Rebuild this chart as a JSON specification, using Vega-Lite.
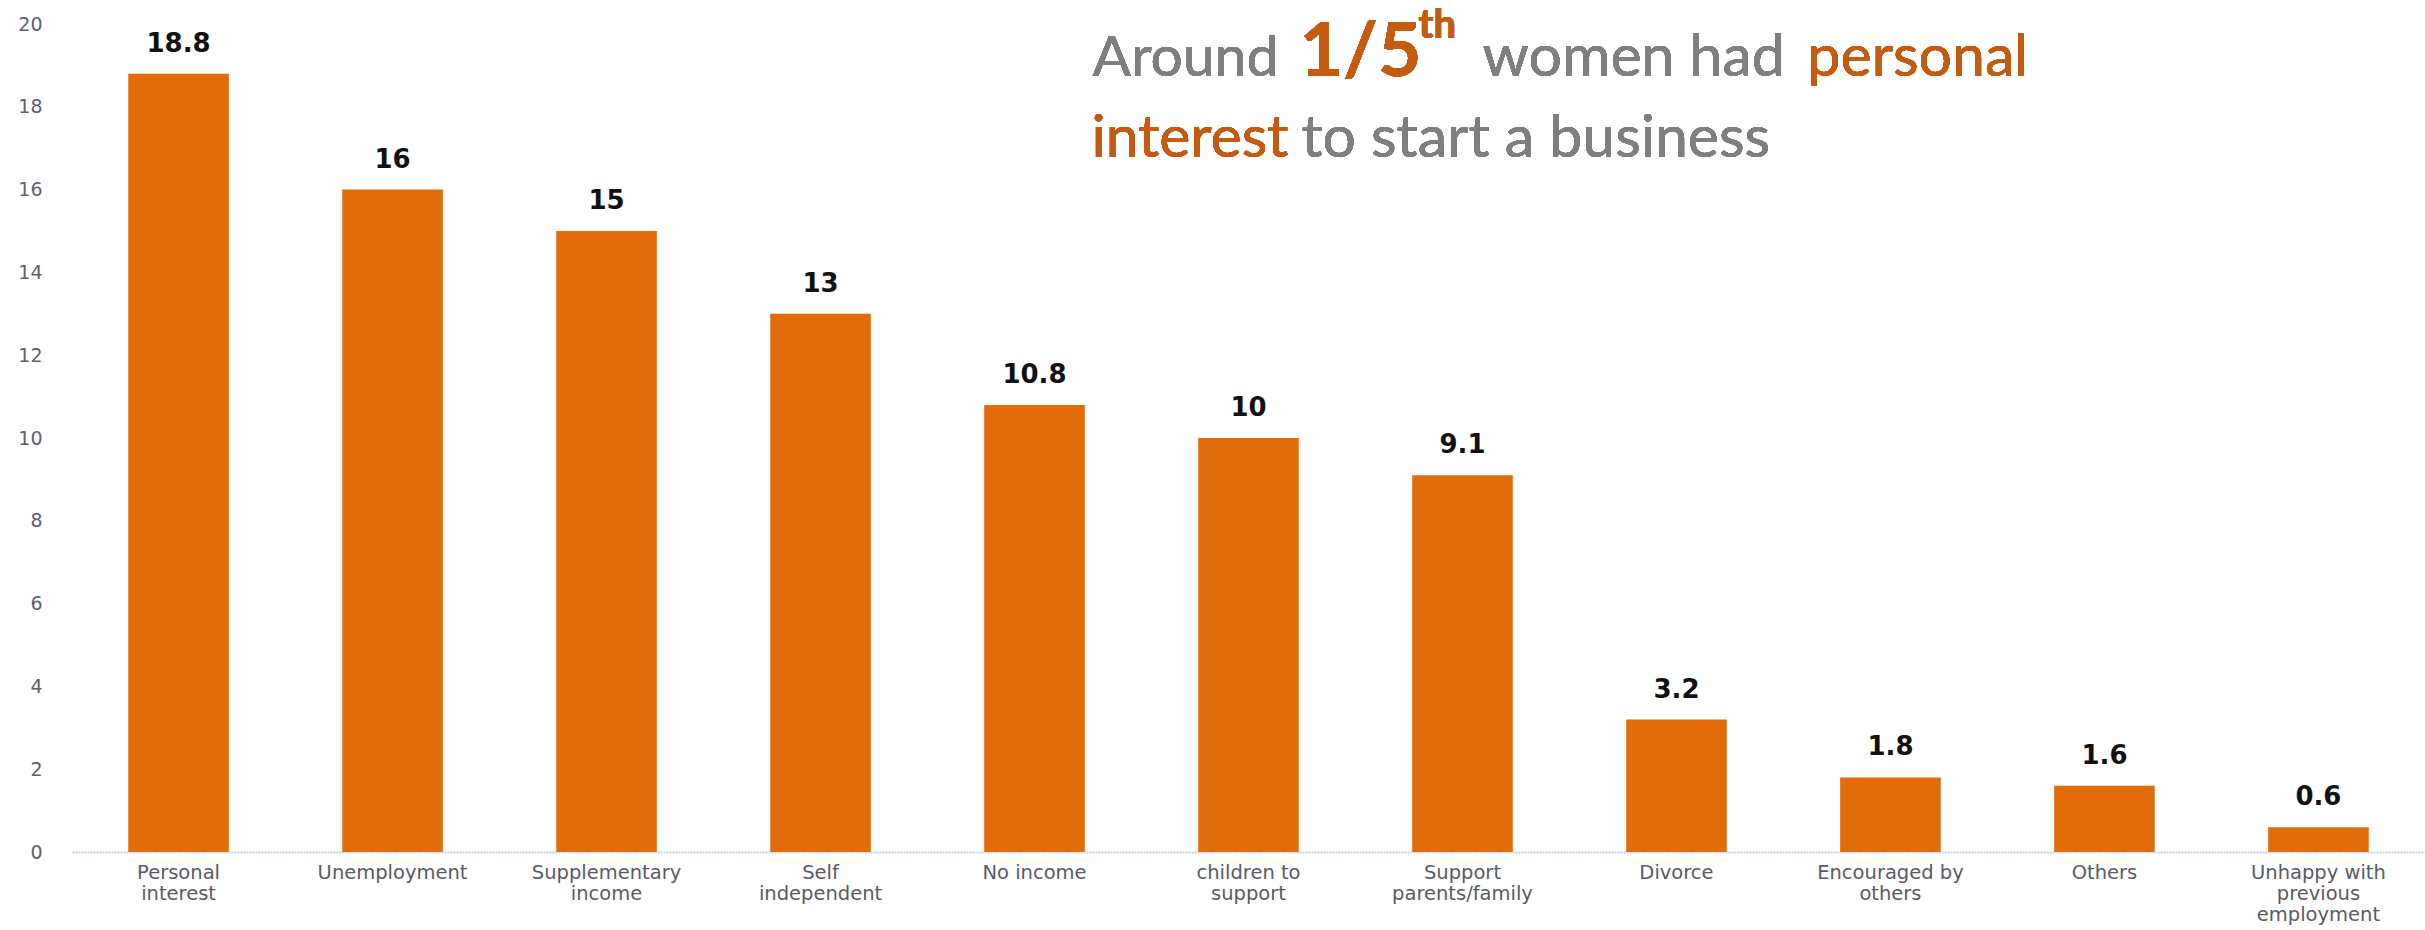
{
  "$schema": "https://vega.github.io/schema/vega-lite/v6.json",
  "width": 2353,
  "height": 828,
  "autosize": {"type": "none"},
  "padding": {"left": 72, "top": 24, "right": 0, "bottom": 78},
  "background": "white",
  "config": {"view": {"stroke": null}},
  "data": {
    "values": [
      {"reason": "Personal|interest", "pct": 18.8},
      {"reason": "Unemployment", "pct": 16},
      {"reason": "Supplementary|income", "pct": 15},
      {"reason": "Self|independent", "pct": 13},
      {"reason": "No income", "pct": 10.8},
      {"reason": "children to|support", "pct": 10},
      {"reason": "Support|parents/family", "pct": 9.1},
      {"reason": "Divorce", "pct": 3.2},
      {"reason": "Encouraged by|others", "pct": 1.8},
      {"reason": "Others", "pct": 1.6},
      {"reason": "Unhappy with|previous|employment", "pct": 0.6}
    ]
  },
  "encoding": {
    "x": {
      "field": "reason",
      "type": "nominal",
      "sort": null,
      "scale": {"paddingInner": 0.53, "paddingOuter": 0.263},
      "axis": {
        "title": null,
        "labelAngle": 0,
        "labelExpr": "split(datum.label, '|')",
        "labelFont": "DejaVu Sans",
        "labelFontSize": 19.5,
        "labelColor": "#5a5a66",
        "labelLineHeight": 21,
        "labelPadding": 11,
        "labelBaseline": "top",
        "ticks": false,
        "domain": true,
        "domainColor": "#c3d2e6",
        "domainWidth": 2,
        "domainDash": [2, 1],
        "grid": false
      }
    },
    "y": {
      "field": "pct",
      "type": "quantitative",
      "scale": {"domain": [0, 20], "nice": false},
      "axis": {
        "title": null,
        "values": [0, 2, 4, 6, 8, 10, 12, 14, 16, 18, 20],
        "labelFont": "DejaVu Sans",
        "labelFontSize": 19,
        "labelColor": "#5f6070",
        "labelPadding": 30,
        "ticks": false,
        "domain": false,
        "grid": false
      }
    }
  },
  "layer": [
    {"mark": {"type": "bar", "color": "#E26B0A"}},
    {
      "mark": {
        "type": "text",
        "font": "DejaVu Sans",
        "fontWeight": "bold",
        "fontSize": 26,
        "color": "#111111",
        "baseline": "alphabetic",
        "align": "center",
        "dy": -22
      },
      "encoding": {"text": {"field": "pct", "type": "quantitative"}}
    },
    {
      "mark": {"type": "text", "text": "Around", "font": "Lato", "fontSize": 57, "color": "#7F7F7F", "align": "left", "baseline": "alphabetic", "dx": 58, "dy": 52},
      "encoding": {"x": {"datum": "No income"}, "y": {"datum": 20}}
    },
    {
      "mark": {"type": "text", "text": "1/5", "font": "Lato", "fontWeight": "bold", "fontSize": 75, "color": "#C55A11", "align": "left", "baseline": "alphabetic", "dx": 265, "dy": 52},
      "encoding": {"x": {"datum": "No income"}, "y": {"datum": 20}}
    },
    {
      "mark": {"type": "text", "text": "th", "font": "Lato", "fontWeight": "bold", "fontSize": 40, "color": "#C55A11", "align": "left", "baseline": "alphabetic", "dx": 384, "dy": 14},
      "encoding": {"x": {"datum": "No income"}, "y": {"datum": 20}}
    },
    {
      "mark": {"type": "text", "text": "women had", "font": "Lato", "fontSize": 59, "color": "#7F7F7F", "align": "left", "baseline": "alphabetic", "dx": 448, "dy": 52},
      "encoding": {"x": {"datum": "No income"}, "y": {"datum": 20}}
    },
    {
      "mark": {"type": "text", "text": "personal", "font": "Lato", "fontSize": 59, "color": "#C55A11", "align": "left", "baseline": "alphabetic", "dx": 773, "dy": 52},
      "encoding": {"x": {"datum": "No income"}, "y": {"datum": 20}}
    },
    {
      "mark": {"type": "text", "text": "interest", "font": "Lato", "fontSize": 59, "color": "#C55A11", "align": "left", "baseline": "alphabetic", "dx": 57, "dy": 133},
      "encoding": {"x": {"datum": "No income"}, "y": {"datum": 20}}
    },
    {
      "mark": {"type": "text", "text": "to start a business", "font": "Lato", "fontSize": 59, "color": "#7F7F7F", "align": "left", "baseline": "alphabetic", "dx": 267, "dy": 133},
      "encoding": {"x": {"datum": "No income"}, "y": {"datum": 20}}
    }
  ]
}
